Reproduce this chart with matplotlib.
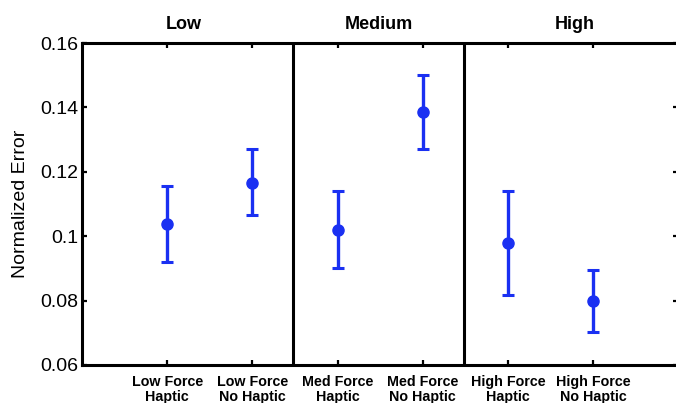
import matplotlib
matplotlib.use("Agg")
import matplotlib.pyplot as plt
import matplotlib.transforms as mtransforms

plt.rcParams['font.family'] = ['Liberation Sans', 'DejaVu Sans']

conditions = ["Low Force\nHaptic", "Low Force\nNo Haptic",
              "Med Force\nHaptic", "Med Force\nNo Haptic",
              "High Force\nHaptic", "High Force\nNo Haptic"]
means = [0.1037, 0.1166, 0.1018, 0.1385, 0.0979, 0.0798]
upper = [0.1155, 0.1270, 0.1140, 0.1500, 0.1140, 0.0894]
lower = [0.0919, 0.1065, 0.0900, 0.1270, 0.0817, 0.0701]
groups = ["Low", "Medium", "High"]
group_x = [1.2, 3.48, 5.79]

xs = list(range(1, len(means) + 1))
err_lo = [m - l for m, l in zip(means, lower)]
err_hi = [u - m for m, u in zip(means, upper)]

fig = plt.figure(figsize=(6.76, 4.03), dpi=100)
ax = fig.add_axes([0.1213, 0.0943, 0.882, 0.799])

blue = '#1a30f2'
ax.errorbar(xs, means, yerr=[err_lo, err_hi], fmt='o', color=blue,
            ecolor=blue, elinewidth=2.4, capsize=4, capthick=2.2,
            markersize=8)

for xv in [2.48, 4.49]:
    ax.axvline(xv, color='black', lw=2.2)

ax.set_xlim(0, 7)
ax.set_ylim(0.06, 0.16)
ax.set_yticks([0.06, 0.08, 0.1, 0.12, 0.14, 0.16])
ax.set_yticklabels(["0.06", "0.08", "0.1", "0.12", "0.14", "0.16"])
ax.set_xticks(xs)
ax.set_xticklabels(conditions, fontweight='bold', fontsize=10.3,
                   linespacing=1.05)
ax.tick_params(axis='both', direction='in', length=3.5, width=1.6,
               top=True, right=True)
ax.tick_params(axis='y', labelsize=14, pad=2.5)
ax.tick_params(axis='x', pad=7.5)
for s in ax.spines.values():
    s.set_linewidth(2.2)

ax.set_ylabel("Normalized Error", fontsize=14, labelpad=8)

trans = mtransforms.blended_transform_factory(ax.transData, ax.transAxes)
for gx, g in zip(group_x, groups):
    ax.text(gx, 1.059, g, transform=trans, ha='center', va='center',
            fontsize=13, fontweight='bold')

fig.savefig("out.png", dpi=100)
